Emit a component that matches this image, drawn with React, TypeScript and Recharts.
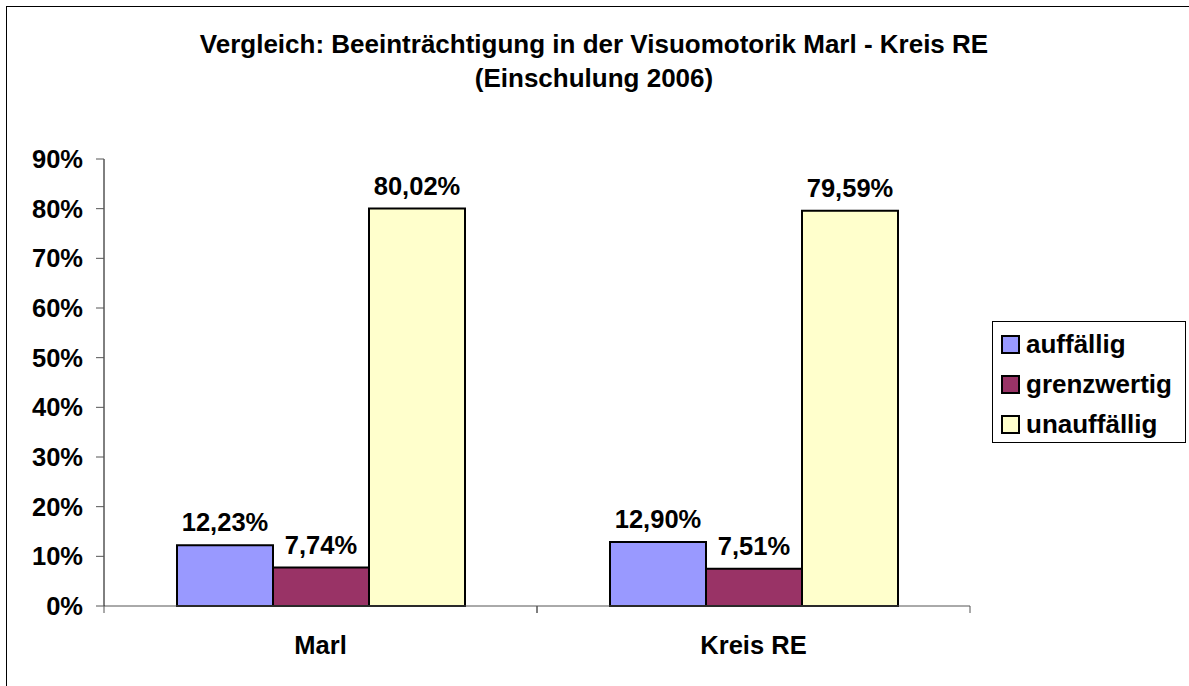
import { BarChart, Bar, XAxis, YAxis, LabelList } from "recharts";

const categories = ["Marl", "Kreis RE"];
const seriesNames = ["auffällig", "grenzwertig", "unauffällig"];
const seriesColors = ["#9999FF", "#993366", "#FFFFCC"];
const auffaellig = [12.23, 12.9];
const grenzwertig = [7.74, 7.51];
const unauffaellig = [80.02, 79.59];
const yTicks = [0, 10, 20, 30, 40, 50, 60, 70, 80, 90];

const data = categories.map((c, i) => ({
  name: c,
  s0: auffaellig[i],
  s1: grenzwertig[i],
  s2: unauffaellig[i]
}));

const W = 1189;
const H = 686;
const margin = { top: 159, right: 219, bottom: 50, left: 8 };
const yAxisWidth = 96;
const bandHalf = (W - margin.left - margin.right - yAxisWidth) / categories.length / 2;

const font = "'Liberation Sans', Arial, sans-serif";

const fmt = (v: any) => Number(v).toFixed(2).replace(".", ",") + "%";

function CatTick(props: any) {
  const { x, y, payload } = props;
  return (
    <g>
      <line x1={x - bandHalf} y1={y} x2={x - bandHalf} y2={y + 7} stroke="#555" />
      <line x1={x + bandHalf} y1={y} x2={x + bandHalf} y2={y + 7} stroke="#555" />
      <text
        x={x}
        y={y + 48}
        textAnchor="middle"
        fontFamily={font}
        fontWeight="bold"
        fontSize={25.5}
        fill="#000"
      >
        {payload.value}
      </text>
    </g>
  );
}

export default function App() {
  return (
    <div
      style={{
        position: "absolute",
        left: 0,
        top: 0,
        width: W,
        height: H,
        overflow: "hidden",
        background: "#fff",
        fontFamily: font
      }}
    >
      <div
        style={{
          position: "absolute",
          left: 6,
          top: 6,
          width: 1300,
          height: 800,
          border: "1px solid #000"
        }}
      />

      <div
        style={{
          position: "absolute",
          left: 0,
          top: 27,
          width: 1188,
          textAlign: "center",
          fontWeight: "bold",
          fontSize: 26,
          lineHeight: "34px"
        }}
      >
        Vergleich: Beeinträchtigung in der Visuomotorik Marl - Kreis RE
        <br />
        (Einschulung 2006)
      </div>

      <div style={{ position: "absolute", left: 0, top: 0 }}>
        <BarChart width={W} height={H} data={data} margin={margin} barGap={0} barSize={96}>
          <XAxis
            dataKey="name"
            height={30}
            axisLine={{ stroke: "#555" }}
            tickLine={false}
            tickSize={0}
            tickMargin={0}
            tick={<CatTick />}
            interval={0}
          />
          <YAxis
            width={yAxisWidth}
            domain={[0, 90]}
            ticks={yTicks}
            interval={0}
            tickFormatter={(v: any) => `${v}%`}
            axisLine={{ stroke: "#000" }}
            tickLine={{ stroke: "#555" }}
            tickSize={8}
            tickMargin={13}
            tick={{ fill: "#000", fontSize: 25.5, fontWeight: "bold", fontFamily: font }}
          />
          {seriesNames.map((n, i) => (
            <Bar
              key={n}
              dataKey={"s" + i}
              name={n}
              fill={seriesColors[i]}
              stroke="#000"
              strokeWidth={2}
              isAnimationActive={false}
            >
              <LabelList
                dataKey={"s" + i}
                position="top"
                offset={14}
                formatter={fmt}
                style={{ fill: "#000", fontSize: 25.5, fontWeight: "bold", fontFamily: font }}
              />
            </Bar>
          ))}
        </BarChart>
      </div>

      <div
        style={{
          position: "absolute",
          left: 992,
          top: 321,
          width: 194,
          height: 122,
          border: "1px solid #000",
          boxSizing: "border-box",
          paddingTop: 2
        }}
      >
        {seriesNames.map((n, i) => (
          <div
            key={n}
            style={{
              display: "flex",
              alignItems: "center",
              height: 40,
              marginLeft: 8,
              fontWeight: "bold",
              fontSize: 26
            }}
          >
            <span
              style={{
                display: "inline-block",
                width: 15,
                height: 15,
                background: seriesColors[i],
                border: "2px solid #000",
                marginRight: 6
              }}
            />
            {n}
          </div>
        ))}
      </div>
    </div>
  );
}
